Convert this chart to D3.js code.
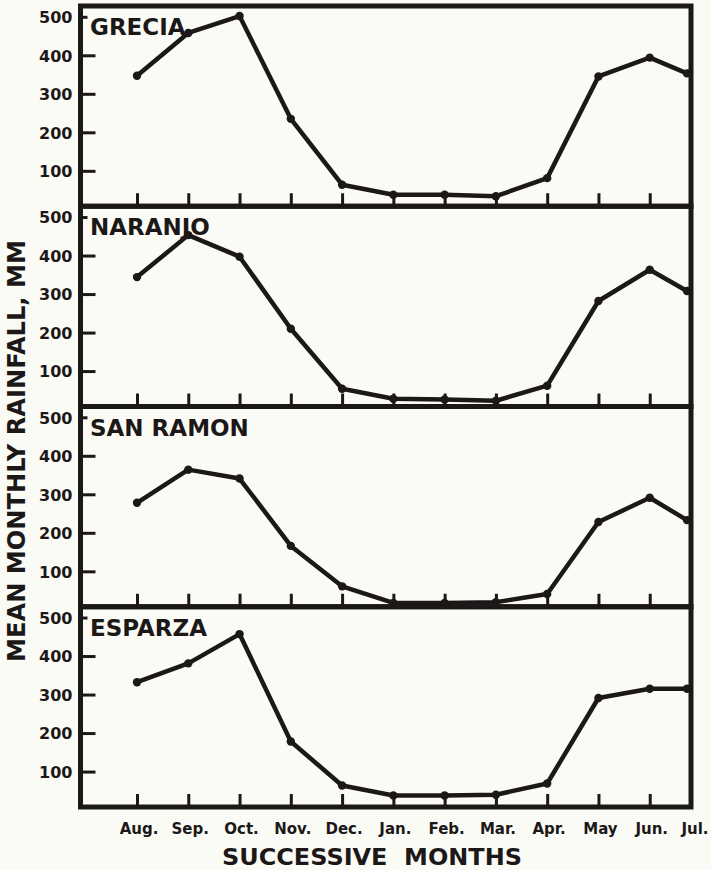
<!DOCTYPE html>
<html>
<head>
<meta charset="utf-8">
<script src="https://cdn.jsdelivr.net/npm/d3@7"></script>
<style>
  html, body { margin: 0; padding: 0; background: #fbfbf6; }
  svg { display: block; }
  text { font-family: "DejaVu Sans", "Liberation Sans", Arial, sans-serif; font-weight: bold; fill: #1c1818; }
</style>
</head>
<body>
<svg id="chart" width="711" height="870"></svg>
<script>
const months = ["Aug.","Sep.","Oct.","Nov.","Dec.","Jan.","Feb.","Mar.","Apr.","May","Jun.","Jul."];
const stations = ["GRECIA","NARANJO","SAN RAMON","ESPARZA"];
const grecia   = [347, 458, 502, 235, 64, 38, 38, 34, 81, 345, 394, 353];
const naranjo  = [344, 453, 397, 210, 54, 28, 26, 23, 62, 282, 363, 308];
const sanRamon = [278, 364, 341, 166, 61, 18, 18, 20, 41, 228, 291, 233];
const esparza  = [332, 381, 457, 178, 64, 38, 38, 40, 69, 291, 315, 315];
const yTicks = [100, 200, 300, 400, 500];
const xTitle = "SUCCESSIVE  MONTHS";
const yTitle = "MEAN MONTHLY RAINFALL, MM";

const series = [grecia, naranjo, sanRamon, esparza];
const ink = "#1c1818";

const svg = d3.select("#chart");
const left = 80.5, right = 691;
const x = d3.scalePoint().domain(months).range([137, 701]);
const xPt = m => Math.min(x(m), right - 4);
const xLab = m => Math.min(x(m), right + 2);
const band = d3.scaleBand().domain(stations).range([6, 807]).padding(0);

stations.forEach((name, i) => {
  const T = band(name), B = T + band.bandwidth();
  const y = d3.scaleLinear().domain([8, 528]).range([B, T]);
  const g = svg.append("g");

  // y ticks (inward) with labels on the left
  const ya = g.append("g").attr("transform", `translate(${left},0)`)
    .call(d3.axisRight(y).tickValues(yTicks).tickSize(13).tickFormat(d3.format("d")));
  ya.select(".domain").remove();
  ya.selectAll(".tick line").attr("stroke", ink).attr("stroke-width", 3)
    .attr("x2", d => d === 500 ? 7 : 15);
  ya.selectAll(".tick text").attr("x", -8).attr("text-anchor", "end")
    .attr("font-size", 16).attr("fill", ink).attr("dy", "0.36em")
    .style("font-family", '"DejaVu Sans", sans-serif').style("font-weight", "bold");

  // x ticks (upward from bottom border)
  const xa = g.append("g").attr("transform", `translate(0,${B})`)
    .call(d3.axisTop(x).tickValues(months.slice(0, 11)).tickSize(13).tickFormat(""));
  xa.select(".domain").remove();
  xa.selectAll(".tick line").attr("stroke", ink).attr("stroke-width", 3);

  // frame
  g.append("rect").attr("x", left).attr("y", T).attr("width", right - left).attr("height", B - T)
    .attr("fill", "none").attr("stroke", ink).attr("stroke-width", 5);

  // line
  const vals = series[i];
  const line = d3.line().x((d, j) => xPt(months[j])).y(d => y(d));
  g.append("path").datum(vals).attr("d", line).attr("fill", "none")
    .attr("stroke", ink).attr("stroke-width", 4.5).attr("stroke-linejoin", "round").attr("stroke-linecap", "round");
  g.selectAll("circle").data(vals).join("circle")
    .attr("cx", (d, j) => xPt(months[j])).attr("cy", d => y(d)).attr("r", 4.2).attr("fill", ink);

  // station label
  g.append("text").attr("x", 90).attr("y", T + 29).attr("font-size", 23).text(name);
});

// month labels
svg.append("g").selectAll("text").data(months).join("text")
  .attr("x", d => xLab(d) + 2).attr("y", 834).attr("text-anchor", "middle")
  .attr("font-size", 15).text(d => d);

// axis titles
svg.append("text").attr("x", 372).attr("y", 865).attr("text-anchor", "middle")
  .attr("font-size", 23).attr("textLength", 300).attr("lengthAdjust", "spacingAndGlyphs")
  .style("white-space", "pre").text(xTitle);
svg.append("text").attr("transform", "translate(25,451) rotate(-90)").attr("text-anchor", "middle")
  .attr("font-size", 24).attr("textLength", 422).attr("lengthAdjust", "spacingAndGlyphs")
  .text(yTitle);
</script>
</body>
</html>
